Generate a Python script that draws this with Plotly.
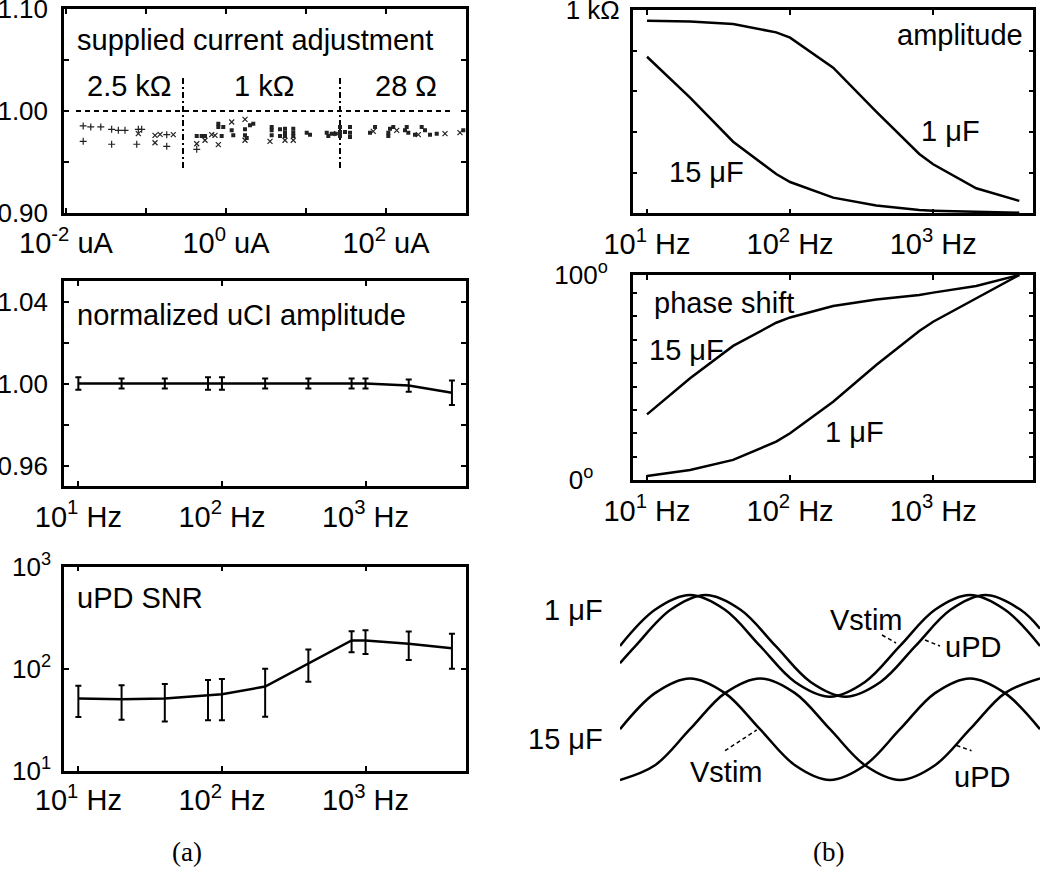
import plotly.graph_objects as go

# ---- data ----
# (a) top: supplied current adjustment, three marker families
plus_current = [0.0164, 0.0204, 0.0272, 0.0164, 0.0372, 0.0451, 0.0546, 0.0372, 0.0802, 0.0883, 0.0766, 0.1816, 0.1816, 0.4305]
plus_ratio = [0.9853, 0.9843, 0.9843, 0.9702, 0.9820, 0.9810, 0.9810, 0.9673, 0.9820, 0.9820, 0.9673, 0.9767, 0.9653, 0.9623]

x_current = [0.0802, 0.1296, 0.1500, 0.2193, 0.1296, 0.4305, 0.5464, 0.6622, 0.7286, 0.8017, 1.178,
             1.728, 1.728, 3.548, 5.464, 6.934, 24.21, 69.3, 136.1, 253.5, 546.4, 841.4]
x_ratio = [0.9777, 0.9761, 0.9770, 0.9767, 0.9688, 0.9678, 0.9712, 0.9767, 0.9761, 0.9669, 0.9892,
           0.9918, 0.9712, 0.9702, 0.9712, 0.9712, 0.9777, 0.9800, 0.9810, 0.9767, 0.9777, 0.9787]

sq_current = [0.4305, 0.4966, 0.5464, 0.8017, 0.8017, 0.9247, 0.8831, 1.178, 1.233, 1.728, 1.995, 2.193,
              1.728, 1.816, 3.724, 3.724, 3.724, 4.732, 5.464, 5.464, 4.732, 5.464, 6.934, 6.934, 6.934,
              10.21, 11.22, 18.16, 19.01, 20.94, 26.61, 26.61, 30.72, 26.61, 23.05, 35.48, 35.48, 35.48,
              63.1, 72.9, 106.9, 112.2, 123.3, 106.9, 172.8, 181.6, 190.1, 230.5, 279.3, 307.3, 354.8,
              430.5, 924.7]
sq_ratio = [0.9754, 0.9754, 0.9754, 0.9875, 0.9843, 0.9843, 0.9754, 0.9810, 0.9761, 0.9820, 0.9859, 0.9875,
            0.9761, 0.9735, 0.9843, 0.9810, 0.9761, 0.9820, 0.9826, 0.9787, 0.9754, 0.9754, 0.9826, 0.9787,
            0.9754, 0.9787, 0.9767, 0.9787, 0.9754, 0.9777, 0.9843, 0.9793, 0.9793, 0.9754, 0.9777, 0.9843,
            0.9787, 0.9744, 0.9787, 0.9843, 0.9787, 0.9826, 0.9843, 0.9754, 0.9810, 0.9843, 0.9787, 0.9767,
            0.9843, 0.9810, 0.9767, 0.9777, 0.9810]

ref_current = [10 ** -1.875, 10 ** 2.8375]   # extent of the dashed 1.00 line, uA
range_bounds = [0.29, 26.6]                  # resistor range boundaries, uA
bound_span = [0.944, 1.034]

# (a) middle and bottom
freq = [10, 20, 40, 80, 100, 200, 400, 800, 1000, 2000, 4000]
uci_amp = [1.000, 1.000, 1.000, 1.000, 1.000, 1.000, 1.000, 1.000, 1.000, 0.999, 0.9955]
uci_err = [0.003, 0.0025, 0.0025, 0.003, 0.003, 0.0025, 0.0025, 0.0025, 0.0025, 0.003, 0.006]

snr = [50.9, 50.2, 50.9, 54.2, 56.2, 66.8, 112.8, 188.9, 189.0, 175.4, 158.5]
snr_hi = [67.9, 69.0, 70.6, 77.5, 79.2, 100.0, 153.9, 233.0, 238.6, 231.7, 219.6]
snr_lo = [33.6, 31.6, 30.4, 31.2, 31.2, 33.8, 74.4, 144.9, 139.7, 121.9, 100.0]

# (b) amplitude (ohm) and phase (deg)
amp_1uf = [947, 944, 931, 890, 864, 716, 500, 292, 241, 123, 61]
amp_15uf = [770, 569, 352, 193, 154, 77, 38, 16, 13, 7, 3]
ph_15uf = [32.0, 49.6, 65.4, 76.7, 79.3, 84.9, 88.1, 90.2, 91.4, 94.6, 100.0]
ph_1uf = [2.0, 4.9, 9.8, 18.7, 22.8, 38.2, 56.1, 72.7, 77.2, 88.6, 100.0]

# (b) waveforms, time in degrees, normalised amplitude
t_vstim = [0, 45, 90, 135, 180, 225, 270, 315, 360, 405, 450, 495, 540]
vstim_wave = [0, 0.71, 1, 0.71, 0, -0.71, -1, -0.71, 0, 0.71, 1, 0.71, 0]
t_upd1 = [0, 20, 65, 110, 155, 200, 245, 290, 335, 380, 425, 470, 515, 540]
upd1_wave = [-0.34, 0, 0.71, 1, 0.71, 0, -0.71, -1, -0.71, 0, 0.71, 1, 0.71, 0.34]
t_upd15 = [0, 45, 90, 135, 180, 225, 270, 315, 360, 405, 450, 495, 540]
upd15_wave = [-1, -0.71, 0, 0.71, 1, 0.71, 0, -0.71, -1, -0.71, 0, 0.71, 1]
upper_offset = 1.64

FONT = "Liberation Sans, Arial, Helvetica, sans-serif"
W, H = 1050, 872


def px(x, y):
    return x / W, 1 - y / H


def dom_x(a, b):
    return [a / W, b / W]


def dom_y(top, bottom):
    return [1 - bottom / H, 1 - top / H]


fig = go.Figure()

# ---- (a) top ----
fig.add_trace(go.Scatter(x=ref_current, y=[1.0, 1.0], mode="lines", xaxis="x", yaxis="y",
                         line=dict(color="black", width=2, dash="5px,4px")))
for b in range_bounds:
    fig.add_trace(go.Scatter(x=[b, b], y=bound_span, mode="lines", xaxis="x", yaxis="y",
                             line=dict(color="black", width=2, dash="6px,3px,2px,3px")))
fig.add_trace(go.Scatter(x=plus_current, y=plus_ratio, mode="markers", xaxis="x", yaxis="y",
                         marker=dict(symbol="cross-thin", size=5, line=dict(width=1.2, color="#222"))))
fig.add_trace(go.Scatter(x=x_current, y=x_ratio, mode="markers", xaxis="x", yaxis="y",
                         marker=dict(symbol="x-thin", size=5, line=dict(width=1.2, color="#222"))))
fig.add_trace(go.Scatter(x=sq_current, y=sq_ratio, mode="markers", xaxis="x", yaxis="y",
                         marker=dict(symbol="square", size=4, color="#222", line=dict(width=0))))

# ---- (a) middle ----
fig.add_trace(go.Scatter(x=freq, y=uci_amp, mode="lines", xaxis="x2", yaxis="y2",
                         line=dict(color="black", width=2.5),
                         error_y=dict(type="data", array=uci_err, color="black", thickness=2, width=3)))

# ---- (a) bottom ----
fig.add_trace(go.Scatter(x=freq, y=snr, mode="lines", xaxis="x3", yaxis="y3",
                         line=dict(color="black", width=2.5),
                         error_y=dict(type="data", symmetric=False,
                                      array=[h - v for h, v in zip(snr_hi, snr)],
                                      arrayminus=[v - l for v, l in zip(snr, snr_lo)],
                                      color="black", thickness=2, width=3)))

# ---- (b) amplitude / phase ----
for yy in (amp_1uf, amp_15uf):
    fig.add_trace(go.Scatter(x=freq, y=yy, mode="lines", xaxis="x4", yaxis="y4",
                             line=dict(color="black", width=2.5)))
for yy in (ph_15uf, ph_1uf):
    fig.add_trace(go.Scatter(x=freq, y=yy, mode="lines", xaxis="x5", yaxis="y5",
                             line=dict(color="black", width=2.5)))

# ---- (b) waveforms ----
wave_line = dict(color="black", width=2.5, shape="spline", smoothing=1.0)
fig.add_trace(go.Scatter(x=t_vstim, y=[v + upper_offset for v in vstim_wave], mode="lines",
                         line=wave_line, xaxis="x6", yaxis="y6"))
fig.add_trace(go.Scatter(x=t_upd1, y=[v + upper_offset for v in upd1_wave], mode="lines",
                         line=wave_line, xaxis="x6", yaxis="y6"))
fig.add_trace(go.Scatter(x=t_vstim, y=vstim_wave, mode="lines", line=wave_line, xaxis="x6", yaxis="y6"))
fig.add_trace(go.Scatter(x=t_upd15, y=upd15_wave, mode="lines", line=wave_line, xaxis="x6", yaxis="y6"))


# leader lines (pixel positions on the waveform panel)
def to_wave(xp, yp):
    return (xp - 620) * 360 / 280, (729.2 - yp) / 50.8


for (a, b), (c, d) in [((882, 635), (896, 643)), ((925, 640), (940, 646)),
                       ((725, 750.7), (756.7, 730)), ((956.5, 745.5), (971.5, 750.7))]:
    x0, y0 = to_wave(a, b)
    x1, y1 = to_wave(c, d)
    fig.add_trace(go.Scatter(x=[x0, x1], y=[y0, y1], mode="lines", xaxis="x6", yaxis="y6",
                             line=dict(color="black", width=1.5, dash="4px,3px")))

box = dict(showline=True, linewidth=2.5, linecolor="black", mirror="allticks", ticks="inside",
           ticklen=5, tickwidth=1.5, tickcolor="black", showgrid=False, zeroline=False,
           automargin=False, ticklabeloverflow="allow")
xfont = dict(family=FONT, size=29, color="black")
yfont = dict(family=FONT, size=26, color="black")

hz_ticks = dict(type="log", range=[0.9, 3.7], tickvals=[10, 100, 1000], tickfont=xfont,
                ticktext=["10<sup>1</sup> Hz", "10<sup>2</sup> Hz", "10<sup>3</sup> Hz"])

LX = dom_x(64, 466)
RX = dom_x(632.7, 1033.3)

fig.update_layout(
    width=W, height=H, margin=dict(l=0, r=0, t=0, b=0, autoexpand=False),
    paper_bgcolor="white", plot_bgcolor="white", showlegend=False,
    font=dict(family=FONT, size=29, color="black"),
    xaxis=dict(**box, type="log", range=[-2.025, 3.0], domain=LX, anchor="y", tickfont=xfont,
               tickvals=[0.01, 0.1, 1, 10, 100],
               ticktext=["10<sup>-2</sup> uA", "", "10<sup>0</sup> uA", "", "10<sup>2</sup> uA"],
               ticklabelstandoff=3),
    yaxis=dict(**box, range=[0.90, 1.10], domain=dom_y(9.3, 212.7), anchor="x", tickfont=yfont,
               tickvals=[0.90, 0.95, 1.00, 1.05, 1.10], ticktext=["0.90", "", "1.00", "", "1.10"],
               ticklabelstandoff=8),
    xaxis2=dict(**box, **hz_ticks, domain=LX, anchor="y2", ticklabelstandoff=3),
    yaxis2=dict(**box, range=[0.95, 1.05], domain=dom_y(281, 486), anchor="x2", tickfont=yfont,
                tickvals=[0.96, 0.98, 1.00, 1.02, 1.04], ticktext=["0.96", "", "1.00", "", "1.04"],
                ticklabelstandoff=8),
    xaxis3=dict(**box, **hz_ticks, domain=LX, anchor="y3", ticklabelstandoff=2),
    yaxis3=dict(**box, type="log", range=[1, 3], domain=dom_y(566.7, 770.7), anchor="x3", tickfont=yfont,
                tickvals=[10, 100, 1000], ticktext=["10<sup>1</sup>", "10<sup>2</sup>", "10<sup>3</sup>"],
                ticklabelstandoff=5),
    xaxis4=dict(**box, **hz_ticks, domain=RX, anchor="y4", ticklabelstandoff=3),
    yaxis4=dict(**box, range=[0, 1000], domain=dom_y(10, 213.3), anchor="x4", tickfont=yfont,
                tickvals=[0, 200, 400, 600, 800, 1000], ticktext=["", "", "", "", "", "1 kΩ"],
                ticklabelstandoff=5),
    xaxis5=dict(**box, **hz_ticks, domain=RX, anchor="y5", ticklabelstandoff=3),
    yaxis5=dict(**box, range=[0, 100], domain=dom_y(275, 480), anchor="x5", tickfont=yfont,
                tickvals=[0, 11.4, 22.8, 34.2, 45.6, 57.0, 68.4, 79.8, 91.2, 100],
                ticktext=["0<sup>o</sup>\u00a0\u00a0", "", "", "", "", "", "", "", "", "100<sup>o</sup>"],
                ticklabelstandoff=17),
    xaxis6=dict(range=[0, 540], domain=dom_x(620, 1040), anchor="y6", visible=False),
    yaxis6=dict(range=[-1.197, 2.740], domain=dom_y(590, 790), anchor="x6", visible=False),
)

texts = [
    ("supplied current adjustment", 75, 40, "left"),
    ("2.5 kΩ", 129, 86, "center"),
    ("1 kΩ", 264, 86, "center"),
    ("28 Ω", 406, 86, "center"),
    ("normalized uCI amplitude", 75, 315, "left"),
    ("uPD SNR", 75, 598, "left"),
    ("amplitude", 1025, 35, "right"),
    ("1 μF", 950, 131, "center"),
    ("15 μF", 706, 172, "center"),
    ("phase shift", 651.7, 303, "left"),
    ("15 μF", 686, 350, "center"),
    ("1 μF", 854, 432, "center"),
    ("1 μF", 605, 610, "right"),
    ("15 μF", 605, 739, "right"),
    ("Vstim", 866, 620, "center"),
    ("uPD", 973, 647, "center"),
    ("Vstim", 726, 772, "center"),
    ("uPD", 982, 777, "center"),
]
for t, x, y, anc in texts:
    ax, ay = px(x, y)
    fig.add_annotation(text=t, x=ax, y=ay, xref="paper", yref="paper", showarrow=False,
                       xanchor=anc, yanchor="middle", font=dict(family=FONT, size=29, color="black"))

for t, x in [("(a)", 187), ("(b)", 828)]:
    ax, ay = px(x, 852)
    fig.add_annotation(text=t, x=ax, y=ay, xref="paper", yref="paper", showarrow=False,
                       xanchor="center", yanchor="middle",
                       font=dict(family="Liberation Serif, Times New Roman, serif", size=27, color="black"))

# page body margin would shift the whole figure by 8px
fig.write_html("out.html", config={"displayModeBar": False},
               post_script="document.body.style.margin = '0';")
